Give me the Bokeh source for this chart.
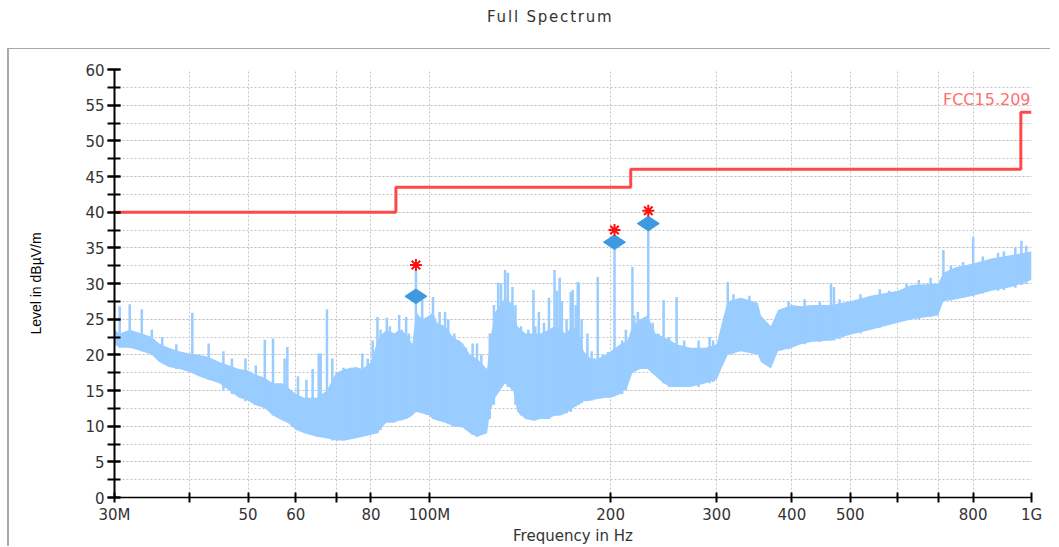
from bokeh.plotting import figure
from bokeh.models import (Range1d, FixedTicker, SingleIntervalTicker, Label, Div)
from bokeh.layouts import column
from bokeh.embed import file_html
from bokeh.resources import INLINE
import math

# ---------------- data ----------------
band_freq = [30.0, 30.6, 31.8, 33.3, 34.6, 35.6, 36.9, 38.4, 40.0, 41.4, 43.0, 44.8,
             46.5, 48.3, 50.0, 51.2, 53.3, 55.0, 57.0, 58.1, 60.0, 62.0, 65.0, 67.6,
             70.0, 72.4, 75.6, 77.4, 80.0, 82.0, 83.6, 85.0, 87.5, 89.1, 91.5, 93.7,
             95.0, 97.3, 100.0, 101.4, 103.0, 106.2, 109.5, 113.7, 116.8, 120.0, 124.7,
             126.1, 128.6, 133.6, 137.8, 140.0, 144.4, 148.9, 153.0, 157.7, 161.4, 164.6,
             168.4, 173.0, 177.0, 180.4, 185.3, 190.4, 196.3, 200.0, 207.6, 213.3, 217.4,
             224.2, 230.3, 237.5, 244.9, 251.6, 257.4, 271.6, 287.6, 300.0, 307.1, 313.0,
             329.0, 351.3, 355.3, 369.2, 379.3, 400.0, 414.0, 430.2, 464.5, 500.0, 541.1,
             600.0, 631.7, 700.0, 713.9, 750.3, 800.0, 858.0, 926.6, 1000.0]
band_low = [21.5, 21.0, 21.0, 20.5, 20.0, 19.0, 18.3, 18.0, 17.6, 17.0, 16.5, 16.0,
            15.0, 14.0, 13.6, 13.0, 12.5, 11.5, 10.8, 10.5, 9.5, 9.0, 8.5, 8.3,
            8.0, 8.0, 8.3, 8.5, 8.8, 9.0, 10.0, 10.5, 10.5, 10.8, 11.0, 11.5,
            12.0, 11.8, 11.5, 11.0, 10.8, 10.5, 10.0, 9.8, 9.0, 8.5, 9.0,
            12.0, 14.0, 16.0, 15.0, 12.0, 11.0, 10.8, 11.0, 11.0, 11.5, 11.5,
            11.8, 12.5, 13.0, 13.5, 13.6, 13.8, 14.0, 14.0, 14.5, 15.5, 17.5,
            18.0, 18.0, 17.0, 16.0, 15.5, 15.5, 15.5, 16.0, 16.5, 18.5, 20.0,
            20.5, 20.0, 19.0, 18.1, 20.5, 21.0, 21.5, 21.8, 22.0, 22.8, 23.5,
            24.5, 25.0, 25.5, 27.5, 27.8, 28.3, 29.0, 29.5, 30.5]
band_high = [23.5, 23.0, 23.5, 23.0, 22.5, 21.6, 21.0, 20.5, 20.2, 20.0, 19.7, 19.0,
             18.5, 18.0, 17.8, 17.3, 16.8, 16.0, 16.0, 15.5, 14.5, 14.0, 14.0, 15.0,
             17.5, 18.0, 18.3, 18.0, 19.0, 22.0, 23.0, 23.5, 23.0, 23.5, 23.0, 21.5,
             26.0, 25.0, 25.5, 26.0, 24.5, 24.0, 22.5, 21.6, 20.0, 19.5, 18.0,
             22.0, 26.0, 28.0, 27.0, 24.0, 23.0, 23.0, 23.0, 23.5, 24.0, 23.5,
             23.0, 24.0, 23.5, 20.5, 19.5, 19.5, 20.0, 20.5, 21.5, 22.0, 24.0,
             25.0, 25.5, 23.0, 22.5, 22.0, 21.5, 21.0, 21.0, 21.5, 25.0, 27.5,
             28.0, 27.3, 25.5, 24.0, 26.3, 27.0, 26.8, 27.0, 27.0, 27.5, 28.3,
             29.0, 29.8, 30.0, 31.5, 32.3, 32.8, 33.5, 34.0, 34.5]

# isolated emission lines: frequency, top level, foot level
spike_freq = [30.6, 31.8, 33.3, 34.6, 36.0, 38.0, 40.4, 43.0, 45.5, 47.0, 49.5, 51.5,
              53.3, 55.0, 57.5, 58.1, 60.5, 62.5, 64.0, 65.5, 66.0, 67.6, 69.0, 72.0,
              74.0, 77.4, 79.0, 80.5, 82.0, 83.0, 85.0, 86.0, 87.0, 89.1, 90.0, 91.5,
              92.5, 95.0, 97.3, 99.0, 101.4, 104.0, 106.2, 107.5, 110.0, 112.0, 115.0,
              118.0, 120.0, 122.0, 126.0, 128.0, 130.1, 131.5, 133.6, 135.0, 137.4, 139.0,
              142.0, 146.0, 148.9, 150.0, 152.0, 155.0, 158.0, 161.4, 163.0, 164.6, 166.0,
              169.0, 171.7, 173.0, 175.0, 176.4, 177.0, 179.0, 183.0, 186.0, 190.4, 194.0,
              198.0, 203.0, 209.0, 212.0, 217.4, 219.0, 222.0, 226.0, 231.0, 235.0, 240.0,
              244.9, 250.0, 257.4, 265.0, 280.0, 292.0, 296.0, 313.0, 320.0, 340.0, 395.0,
              420.0, 445.0, 464.5, 469.8, 480.0, 520.0, 560.0, 580.0, 620.0, 650.0, 680.0,
              713.9, 735.0, 770.0, 800.0, 830.0, 880.0, 900.0, 940.0, 962.0, 980.0]
spike_level = [26.8, 27.1, 26.4, 23.5, 22.5, 21.5, 25.9, 21.6, 20.5, 19.5, 19.5, 18.5,
               22.1, 22.3, 19.5, 21.1, 17.0, 16.5, 18.0, 20.2, 20.2, 26.4, 19.5, 18.2,
               18.2, 20.2, 19.5, 22.0, 25.3, 23.5, 25.2, 24.0, 23.0, 25.6, 23.5, 25.3,
               23.0, 31.8, 27.7, 25.0, 28.1, 26.0, 26.0, 25.0, 23.0, 22.0, 21.0,
               21.6, 21.6, 20.0, 23.0, 27.0, 30.1, 30.0, 31.9, 31.5, 29.5, 27.0,
               24.0, 23.5, 29.1, 24.0, 26.0, 24.5, 28.0, 31.9, 29.0, 30.8, 27.5,
               25.0, 28.8, 29.1, 27.0, 30.2, 30.1, 25.0, 23.0, 20.5, 30.9, 20.0,
               20.4, 35.1, 22.0, 23.5, 32.3, 25.5, 26.0, 25.0, 37.5, 24.5, 23.0,
               27.7, 22.5, 28.1, 22.0, 22.0, 22.5, 22.0, 30.2, 28.5, 28.3, 27.5,
               27.8, 27.5, 30.0, 29.5, 27.8, 28.5, 29.2, 29.0, 30.0, 30.5, 30.8,
               34.7, 32.5, 33.0, 36.5, 33.8, 34.3, 34.5, 35.0, 36.0, 35.3]
spike_foot = [21.0, 21.0, 20.5, 20.0, 19.0, 18.0, 17.5, 16.5, 15.0, 14.5, 13.5, 13.0,
              12.5, 11.5, 10.8, 10.5, 9.5, 9.0, 8.8, 8.5, 8.5, 8.3, 8.0, 8.0,
              8.2, 8.5, 8.7, 8.9, 9.0, 9.5, 10.5, 10.5, 10.5, 10.8, 10.8, 11.0,
              11.2, 12.0, 11.8, 11.6, 11.0, 10.8, 10.5, 10.3, 10.0, 9.9, 9.5,
              8.8, 8.5, 8.8, 11.0, 13.0, 15.0, 15.5, 16.0, 15.5, 15.0, 13.0,
              11.5, 11.0, 10.8, 10.8, 11.0, 11.0, 11.0, 11.5, 11.5, 11.5, 11.6,
              11.8, 12.0, 12.5, 12.8, 13.0, 13.0, 13.2, 13.5, 13.6, 13.8, 14.0,
              14.0, 14.2, 14.5, 15.0, 17.5, 17.8, 18.0, 18.0, 18.0, 17.5, 17.0,
              16.0, 15.5, 15.5, 15.5, 15.5, 16.0, 16.2, 20.0, 20.2, 20.5, 20.8,
              21.5, 21.8, 22.0, 22.0, 22.2, 23.0, 23.8, 24.2, 24.8, 25.0, 25.3,
              27.5, 27.6, 28.0, 28.3, 28.6, 29.0, 29.1, 29.4, 29.8, 30.0]

limit_freq = [30, 88, 88, 216, 216, 960, 960, 1000]
limit_level = [40, 40, 43.5, 43.5, 46, 46, 54, 54]

peak_freq = [95.0, 203.0, 231.0]
peak_level = [28.2, 35.8, 38.4]
peak_star = [32.6, 37.5, 40.2]

x_ticks = [30, 40, 50, 60, 70, 80, 100, 200, 300, 400, 500, 600, 700, 800, 1000]
x_label_overrides = {30: "30M", 40: "", 70: "", 100: "100M", 600: "", 700: "", 1000: "1G"}

# ---------------- figure ----------------
TICK_FONT = "DejaVu Sans"
p = figure(frame_width=915, frame_height=427, x_axis_type="log",
           x_range=Range1d(30, 1000), y_range=Range1d(0, 60),
           output_backend="svg", toolbar_location=None,
           min_border_left=105, min_border_right=21, min_border_top=20,
           min_border_bottom=40)
p.styles = {"border-top": "1px solid #a8a8a8", "border-left": "2px solid #a8a8a8",
            "margin-left": "7px"}
p.outline_line_color = None
p.background_fill_color = "white"
p.border_fill_color = "white"

p.varea(x=band_freq, y1=band_low, y2=band_high, fill_color="#99ccff")
p.segment(x0=spike_freq, y0=spike_foot, x1=spike_freq, y1=spike_level,
          line_color="#99ccff", line_width=2.5)

p.line(limit_freq, limit_level, line_color="#ff4848", line_width=3)

p.scatter(peak_freq, peak_level, marker="diamond", size=22, angle=math.pi / 2,
          fill_color="#3d9ae0", line_color="#3d9ae0")
p.scatter(peak_freq, peak_star, marker="asterisk", size=12,
          line_color="#ff1010", line_width=2)

lab = Label(x=1000, y=54, text="FCC15.209", text_align="right", text_baseline="bottom",
            x_offset=-1, y_offset=3, text_color="#ff7070", text_font=TICK_FONT,
            text_font_size="16px")
p.add_layout(lab)

# grids
for g in (p.xgrid, p.ygrid):
    g.grid_line_color = "#c4c4c4"
    g.grid_line_dash = "2 2"
    g.grid_line_width = 1
p.xgrid.ticker = FixedTicker(ticks=x_ticks, minor_ticks=[])
p.ygrid.minor_grid_line_color = "#c4c4c4"
p.ygrid.minor_grid_line_dash = "2 2"

# axes
p.xaxis.ticker = FixedTicker(ticks=x_ticks, minor_ticks=[])
p.xaxis.major_label_overrides = x_label_overrides
p.yaxis.ticker = SingleIntervalTicker(interval=5, num_minor_ticks=2)
for ax in (p.xaxis[0], p.yaxis[0]):
    ax.axis_line_color = "black"
    ax.major_tick_line_color = "black"
    ax.minor_tick_line_color = "black"
    ax.major_tick_line_width = 2
    ax.minor_tick_line_width = 2
    ax.major_label_text_font = TICK_FONT
    ax.major_label_text_font_size = "15px"
    ax.major_label_text_color = "#333333"
    ax.axis_label_text_font_style = "normal"
p.yaxis.axis_line_width = 2
p.xaxis.axis_line_width = 1.5
p.yaxis.major_tick_in = 6
p.yaxis.major_tick_out = 7
p.yaxis.minor_tick_in = 6
p.yaxis.minor_tick_out = 7
p.yaxis.major_label_standoff = 3
p.xaxis.major_tick_in = 5
p.xaxis.major_tick_out = 5
p.xaxis.major_label_standoff = 3

p.yaxis.axis_label = "Level in dBµV/m"
p.yaxis.axis_label_text_font = "Liberation Sans"
p.yaxis.axis_label_text_font_size = "14px"
p.yaxis.axis_label_text_color = "black"
p.yaxis.axis_label_standoff = 38

p.xaxis.axis_label = "Frequency in Hz"
p.xaxis.axis_label_text_font = TICK_FONT
p.xaxis.axis_label_text_font_size = "15px"
p.xaxis.axis_label_text_color = "#333333"
p.xaxis.axis_label_standoff = 0

title = Div(text="Full Spectrum", width=1043, height=38,
            styles={"padding-left": "482px", "padding-top": "2px",
                    "font-family": "DejaVu Sans", "font-size": "15px",
                    "letter-spacing": "1.8px", "color": "#333"})

layout = column(title, p, spacing=0)
open("out.html", "w").write(file_html(layout, INLINE))
